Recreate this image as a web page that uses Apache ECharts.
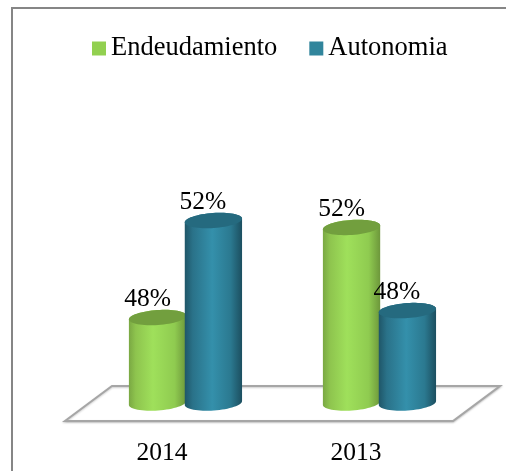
<!DOCTYPE html>
<html><head><meta charset="utf-8">
<style>html,body{margin:0;padding:0;background:#fff}#c{width:506px;height:471px}</style>
<script src="https://cdn.jsdelivr.net/npm/echarts@6/dist/echarts.min.js"></script>
</head><body><div id="c"></div>
<script>
const categories = ['2014', '2013'];
const endeudamiento = [47.9, 51.8];
const autonomia = [52.1, 48.2];
const AXIS_MIN = 44.2;
const AXIS_MAX = 54.2;
const FONT = '"Liberation Serif","Times New Roman",serif';

function ell(cx, cy, rx, ry, tilt, a0, a1, n) {
  const pts = [];
  const c = Math.cos(tilt), s = Math.sin(tilt);
  for (let i = 0; i <= n; i++) {
    const a = a0 + (a1 - a0) * i / n;
    const x = rx * Math.cos(a), y = ry * Math.sin(a);
    pts.push([cx + x * c - y * s, cy + x * s + y * c]);
  }
  return pts;
}
function cylinder(offset, stops, topColor, labelDx) {
  return function (params, api) {
    const band = api.size([1, 0])[0];
    const top = api.coord([api.value(0), api.value(1)]);
    const base = api.coord([api.value(0), AXIS_MIN]);
    const cx = top[0] + offset * band;
    const rx = 0.148 * band, ry = 7.5, tilt = -0.07;
    const lower = ell(cx, base[1], rx, ry, tilt, 0, Math.PI, 32);
    const upper = ell(cx, top[1], rx, ry, tilt, Math.PI, 2 * Math.PI, 32);
    const grad = new echarts.graphic.LinearGradient(0, 0, 1, 0, stops);
    return {
      type: 'group',
      children: [
        { type: 'polygon', shape: { points: lower.concat(upper) }, style: { fill: grad } },
        { type: 'polygon', shape: { points: ell(cx, top[1], rx, ry, tilt, 0, 2 * Math.PI, 64) }, style: { fill: topColor } },
        { type: 'text', x: cx + labelDx, y: top[1] - 18,
          style: { text: Math.round(api.value(1)) + '%', font: '25.5px ' + FONT, fill: '#000', align: 'center', verticalAlign: 'middle' } }
      ]
    };
  };
}
const greenStops = [
  { offset: 0, color: '#7aa843' }, { offset: 0.12, color: '#8ec44e' }, { offset: 0.42, color: '#9fe05b' },
  { offset: 0.8, color: '#8fcb50' }, { offset: 1, color: '#6d973b' }
];
const blueStops = [
  { offset: 0, color: '#1f5668' }, { offset: 0.14, color: '#2a7289' }, { offset: 0.48, color: '#3490ab' },
  { offset: 0.8, color: '#2b7990' }, { offset: 1, color: '#1c4f60' }
];
const chart = echarts.init(document.getElementById('c'), null, { renderer: 'canvas' });
chart.setOption({
  animation: false,
  backgroundColor: '#fff',
  grid: { left: 65, width: 388, top: 172, height: 231 },
  legend: {
    left: 87, top: 30, icon: 'rect', itemWidth: 14, itemHeight: 14, itemGap: 32,
    textStyle: { fontFamily: FONT, fontSize: 26.5, color: '#000' },
    data: ['Endeudamiento', 'Autonomia']
  },
  xAxis: {
    type: 'category', data: categories,
    axisLine: { show: false }, axisTick: { show: false },
    axisLabel: { fontFamily: FONT, fontSize: 25.5, color: '#000', margin: 37 }
  },
  yAxis: { type: 'value', min: AXIS_MIN, max: AXIS_MAX, show: false },
  graphic: [
    { type: 'polygon', z: 0, shape: { points: [[65, 421], [453, 421], [500, 386], [112, 386]] },
      style: { fill: '#fff', stroke: '#a6a6a6', lineWidth: 2, shadowBlur: 2, shadowColor: 'rgba(0,0,0,0.2)', shadowOffsetY: 1 } },
    { type: 'polyline', z: 0, shape: { points: [[12, 471], [12, 8], [506, 8]] },
      style: { fill: 'none', stroke: '#868686', lineWidth: 2 } }
  ],
  series: [
    { name: 'Endeudamiento', type: 'custom', z: 3, itemStyle: { color: '#92D050' },
      encode: { x: 0, y: 1 }, data: endeudamiento.map((v, i) => [i, v]),
      renderItem: cylinder(-0.023, greenStops, '#729f3e', -10) },
    { name: 'Autonomia', type: 'custom', z: 4, itemStyle: { color: '#31859C' },
      encode: { x: 0, y: 1 }, data: autonomia.map((v, i) => [i, v]),
      renderItem: cylinder(0.265, blueStops, '#256a7f', -10.5) }
  ]
});
</script></body></html>
